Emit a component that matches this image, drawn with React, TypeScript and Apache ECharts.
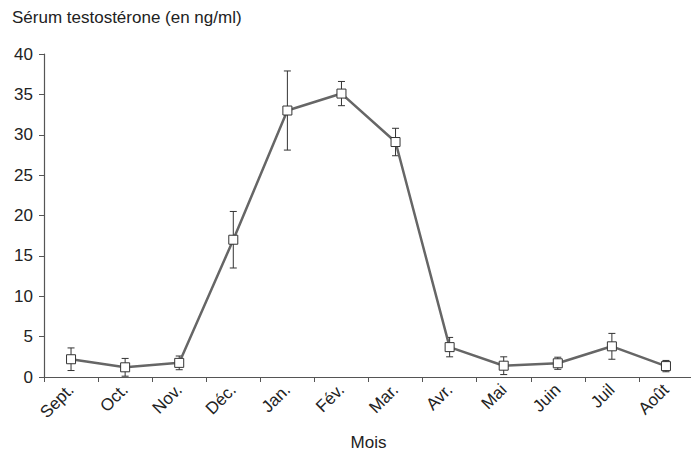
import React, { useEffect, useRef } from "react";
import * as echarts from "echarts";

const categories = ["Sept.", "Oct.", "Nov.", "Déc.", "Jan.", "Fév.", "Mar.", "Avr.", "Mai", "Juin", "Juil", "Août"];
const means = [2.2, 1.2, 1.75, 17.0, 33.0, 35.1, 29.1, 3.7, 1.4, 1.7, 3.8, 1.35];
const errors = [1.4, 1.1, 0.85, 3.5, 4.9, 1.5, 1.7, 1.2, 1.1, 0.75, 1.6, 0.7];
const yTicks = [0, 5, 10, 15, 20, 25, 30, 35, 40];

const FONT = "'Liberation Sans', Arial, Helvetica, sans-serif";

export default function App() {
  const ref = useRef<HTMLDivElement>(null);
  useEffect(() => {
    document.body.style.margin = "0";
    if (!ref.current) return;
    const chart = echarts.init(ref.current, undefined, { renderer: "svg" });
    const errData = means.map((m, i) => [i, m - errors[i], m + errors[i]]);
    chart.setOption({
      animation: false,
      backgroundColor: "#ffffff",
      graphic: [
        {
          type: "text",
          left: 12,
          top: 9,
          style: {
            text: "Sérum testostérone (en ng/ml)",
            font: `17px ${FONT}`,
            fill: "#222",
          },
        },
      ],
      grid: { left: 44, top: 54, width: 649, height: 323, outerBoundsMode: "none", containLabel: false },
      xAxis: {
        type: "category",
        data: categories,
        boundaryGap: true,
        name: "Mois",
        nameLocation: "middle",
        nameGap: 57,
        nameTextStyle: { fontFamily: FONT, fontSize: 17, color: "#222" },
        axisLine: { lineStyle: { color: "#555", width: 1.2 } },
        axisTick: { show: true, alignWithLabel: false, length: 5, lineStyle: { color: "#555" } },
        axisLabel: { rotate: 45, margin: 10, fontFamily: FONT, fontSize: 17, color: "#222", interval: 0 },
      },
      yAxis: {
        type: "value",
        min: 0,
        max: 40,
        interval: 5,
        axisLine: { show: true, lineStyle: { color: "#555", width: 1.2 } },
        axisTick: { show: true, length: 5, lineStyle: { color: "#555" } },
        splitLine: { show: false },
        axisLabel: {
          margin: 11,
          fontFamily: FONT,
          fontSize: 17,
          color: "#222",
          formatter: (v: number) => (yTicks.includes(v) ? String(v) : ""),
        },
      },
      series: [
        {
          type: "custom",
          data: errData,
          z: 1,
          renderItem: (params: any, api: any) => {
            const x = api.coord([api.value(0), 0])[0];
            const lo = api.coord([api.value(0), api.value(1)])[1];
            const hi = api.coord([api.value(0), api.value(2)])[1];
            const cap = 3.5;
            const style = { stroke: "#333", lineWidth: 1 };
            return {
              type: "group",
              children: [
                { type: "line", shape: { x1: x, y1: lo, x2: x, y2: hi }, style },
                { type: "line", shape: { x1: x - cap, y1: hi, x2: x + cap, y2: hi }, style },
                { type: "line", shape: { x1: x - cap, y1: lo, x2: x + cap, y2: lo }, style },
              ],
            };
          },
        },
        {
          type: "line",
          data: means,
          z: 2,
          lineStyle: { color: "#666", width: 2.5 },
          symbol: "rect",
          symbolSize: 9,
          itemStyle: { color: "#fff", borderColor: "#333", borderWidth: 1 },
        },
      ],
    });
    return () => chart.dispose();
  }, []);
  return <div ref={ref} style={{ width: 691, height: 455 }} />;
}
